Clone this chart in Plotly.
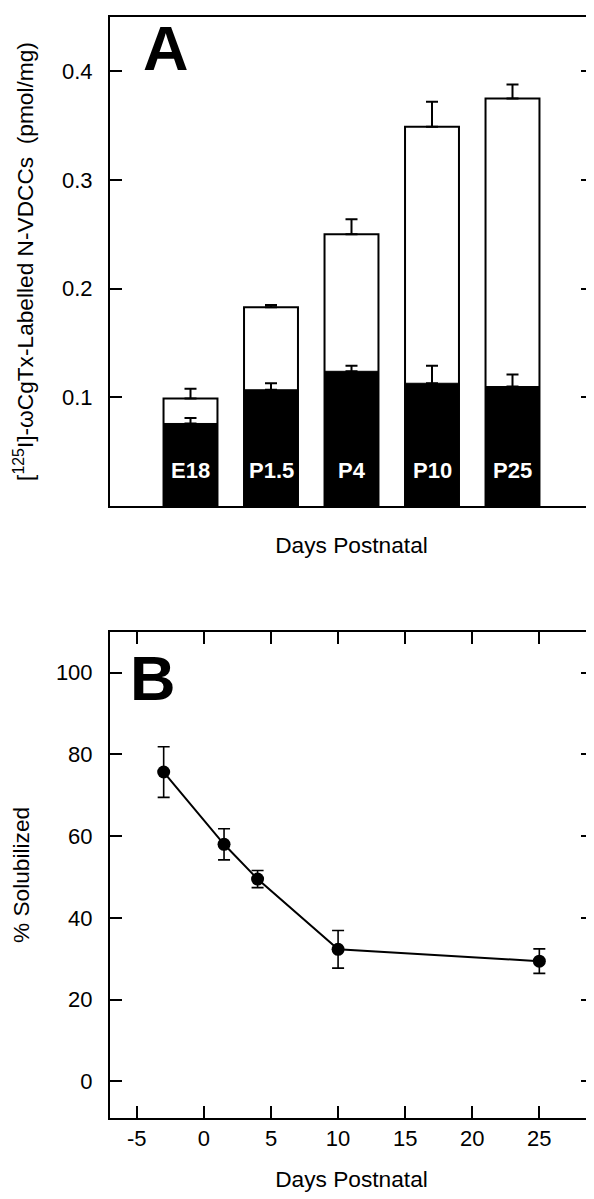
import plotly.graph_objects as go

# Panel A data
stages = ["E18", "P1.5", "P4", "P10", "P25"]
stage_pos = [1, 2, 3, 4, 5]
total_binding = [0.099, 0.183, 0.250, 0.349, 0.375]
total_err = [0.009, 0.002, 0.014, 0.023, 0.013]
soluble_binding = [0.076, 0.107, 0.124, 0.113, 0.110]
soluble_err = [0.005, 0.006, 0.005, 0.016, 0.011]
a_yticks = [0.1, 0.2, 0.3, 0.4]

# Panel B data
days = [-3, 1.5, 4, 10, 25]
pct_solubilized = [75.7, 58.0, 49.5, 32.3, 29.4]
pct_err = [6.2, 3.8, 2.1, 4.6, 3.0]
b_xticks = [-5, 0, 5, 10, 15, 20, 25]
b_xticktext = ["-5", "0", "5", "10", "15", "20", "25"]
b_yticks = [0, 20, 40, 60, 80, 100]

FONT = "Liberation Sans, Arial, Helvetica, sans-serif"
BAR_W = 0.67

fig = go.Figure()

fig.add_trace(go.Bar(
    x=stage_pos, y=total_binding, width=BAR_W,
    marker=dict(color="white", line=dict(color="black", width=2)),
    error_y=dict(type="data", symmetric=False, array=total_err,
                 arrayminus=[0] * len(total_err), color="black",
                 thickness=2, width=6),
    xaxis="x", yaxis="y", showlegend=False, hoverinfo="skip",
))
fig.add_trace(go.Bar(
    x=stage_pos, y=soluble_binding, width=BAR_W,
    marker=dict(color="black", line=dict(color="black", width=1)),
    error_y=dict(type="data", symmetric=False, array=soluble_err,
                 arrayminus=[0] * len(soluble_err), color="black",
                 thickness=2, width=6),
    xaxis="x", yaxis="y", showlegend=False, hoverinfo="skip",
))

fig.add_trace(go.Scatter(
    x=days, y=pct_solubilized, mode="lines+markers",
    line=dict(color="black", width=2),
    marker=dict(color="black", size=13),
    error_y=dict(type="data", array=pct_err, color="black",
                 thickness=1.6, width=6),
    xaxis="x2", yaxis="y2", showlegend=False, hoverinfo="skip",
))

tickfont = dict(family=FONT, size=22, color="black")
titlefont = dict(family=FONT, size=22.7, color="black")
common = dict(showline=True, linecolor="black", linewidth=2, showgrid=False,
              zeroline=False, ticks="inside", ticklen=12, tickwidth=2,
              tickcolor="black", tickfont=tickfont)

annotations = [
    dict(text="<b>A</b>", xref="x domain", yref="y domain", x=0.1155, y=0.936,
         xanchor="center", yanchor="middle", showarrow=False,
         font=dict(family=FONT, size=63, color="black")),
    dict(text="<b>B</b>", xref="x2 domain", yref="y2 domain", x=0.089, y=0.906,
         xanchor="center", yanchor="middle", showarrow=False,
         font=dict(family=FONT, size=63, color="black")),
]
for pos, lab in zip(stage_pos, stages):
    annotations.append(dict(
        text="<b>%s</b>" % lab, xref="x", yref="y domain", x=pos, y=0.072,
        xanchor="center", yanchor="middle", showarrow=False,
        font=dict(family=FONT, size=22, color="white")))

fig.update_layout(
    width=594, height=1199,
    margin=dict(l=102, r=9, t=7, b=89),
    paper_bgcolor="white", plot_bgcolor="white",
    barmode="overlay",
    font=dict(family=FONT, color="black"),
    xaxis=dict(domain=[0, 1], anchor="y", range=[0, 6],
               showline=True, linecolor="black", linewidth=2, mirror=True,
               showgrid=False, zeroline=False, ticks="", showticklabels=False,
               title=dict(text="Days Postnatal", font=titlefont, standoff=30)),
    yaxis=dict(domain=[0.5558, 1.0], anchor="x", range=[0, 0.45],
               tickvals=a_yticks, mirror="ticks", ticklabelstandoff=11,
               title=dict(text="[<sup>125</sup>I]-\u03c9CgTx-Labelled N-VDCCs\u00a0\u00a0(pmol/mg)",
                          font=titlefont, standoff=22),
               **common),
    xaxis2=dict(domain=[0, 1], anchor="y2", range=[-7, 29],
                tickvals=b_xticks, ticktext=b_xticktext, mirror="ticks",
                ticklabelstandoff=0,
                title=dict(text="Days Postnatal", font=titlefont, standoff=21),
                **common),
    yaxis2=dict(domain=[0, 0.4415], anchor="x2", range=[-9, 110],
                tickvals=b_yticks, mirror="ticks", ticklabelstandoff=11,
                title=dict(text="% Solubilized", font=titlefont, standoff=20),
                **common),
    annotations=annotations,
)

fig.write_html("out.html")
